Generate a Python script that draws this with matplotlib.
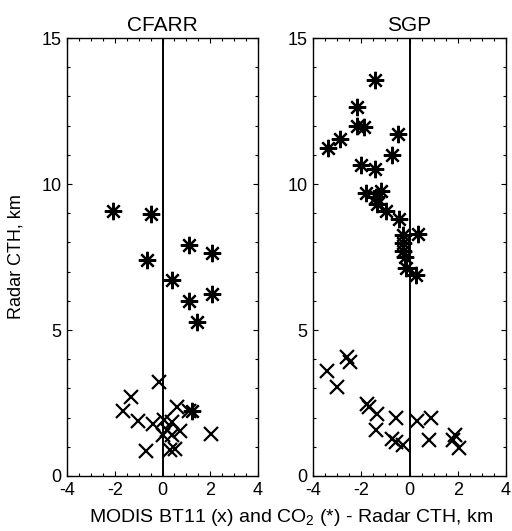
import matplotlib
matplotlib.use("Agg")
import matplotlib.pyplot as plt
from matplotlib.ticker import MultipleLocator

plt.rcParams['font.family'] = ['Liberation Sans', 'DejaVu Sans']
plt.rcParams['mathtext.fontset'] = 'custom'
plt.rcParams['mathtext.rm'] = 'Liberation Sans'
plt.rcParams['mathtext.it'] = 'Liberation Sans'

# CFARR
cf_co2_x = [-2.06, -0.48, -0.66, 0.38, 1.11, 2.08, 1.11, 2.08, 1.43, 1.25]
cf_co2_y = [9.08, 8.97, 7.40, 6.71, 7.91, 7.62, 6.01, 6.25, 5.28, 2.24]
cf_bt_x = [-0.13, -1.33, -1.67, -1.01, -0.38, -0.69, 0.59, 0.08, 0.41, 0.17, 0.73, 0.03, 0.40, 2.03, 0.31, 0.52, 1.10]
cf_bt_y = [3.21, 2.72, 2.22, 1.87, 1.79, 0.85, 2.36, 1.93, 1.85, 1.59, 1.54, 1.39, 1.40, 1.43, 0.88, 0.94, 2.24]

# SGP
sg_co2_x = [-1.42, -2.17, -2.17, -1.89, -2.88, -3.37, -0.49, -0.73, -2.01, -1.42, -1.80, -1.18, -1.39, -1.34,
            -0.98, -0.44, -0.26, 0.37, -0.26, -0.26, -0.20, -0.16, 0.26]
sg_co2_y = [13.55, 12.64, 12.00, 11.96, 11.54, 11.22, 11.70, 11.01, 10.64, 10.52, 9.70, 9.76, 9.56, 9.33,
            9.07, 8.80, 8.26, 8.29, 7.97, 7.69, 7.50, 7.14, 6.89]
sg_bt_x = [-3.44, -2.61, -2.47, -3.00, -1.78, -1.67, -1.34, -1.39, -0.56, -0.74, -0.56, -0.26, 0.30, 0.88, 0.82,
           1.90, 1.82, 2.05]
sg_bt_y = [3.58, 4.06, 3.92, 3.04, 2.47, 2.36, 2.11, 1.56, 1.98, 1.28, 1.17, 1.05, 1.90, 1.98, 1.25,
           1.42, 1.22, 0.96]

titles = ['CFARR', 'SGP']
panels = [(cf_bt_x, cf_bt_y, cf_co2_x, cf_co2_y), (sg_bt_x, sg_bt_y, sg_co2_x, sg_co2_y)]

fig = plt.figure(figsize=(5.12, 5.31), dpi=100)
lefts = [67 / 512, 313 / 512]
widths = [191 / 512, 193 / 512]
bottom = 1 - 476 / 531
height = (476 - 38) / 531

for i, (bx, by, cx, cy) in enumerate(panels):
    ax = fig.add_axes([lefts[i], bottom, widths[i], height])
    ax.axvline(0, color='black', lw=1.4, zorder=1)
    ax.plot(bx, by, linestyle='none', marker='x', ms=10, mew=1.6, color='black')
    ax.plot(cx, cy, linestyle='none', marker=(8, 2, 0), ms=12.5, mew=1.6, color='black')
    ax.set_xlim(-4, 4)
    ax.set_ylim(0, 15)
    ax.xaxis.set_major_locator(MultipleLocator(2))
    ax.xaxis.set_minor_locator(MultipleLocator(0.5))
    ax.yaxis.set_major_locator(MultipleLocator(5))
    ax.yaxis.set_minor_locator(MultipleLocator(1))
    ax.tick_params(which='both', direction='in', top=True, right=True, labelsize=13, width=0.8, pad=4)
    ax.tick_params(which='major', length=3.5)
    ax.tick_params(which='minor', length=2.5)
    ax.set_xticks([-4, -2, 0, 2, 4])
    ax.set_xticklabels(['-4', '-2', '0', '2', '4'])
    ax.set_title(titles[i], fontsize=15, pad=5)
    for s in ax.spines.values():
        s.set_linewidth(1.0)
    if i == 0:
        ax.set_ylabel('Radar CTH, km', fontsize=13, labelpad=12)

fig.text(291 / 512, 1 - 518 / 531, 'MODIS BT11 (x) and CO$_2$ (*) - Radar CTH, km',
         ha='center', va='center', fontsize=14)

fig.savefig('out.png', dpi=100)
